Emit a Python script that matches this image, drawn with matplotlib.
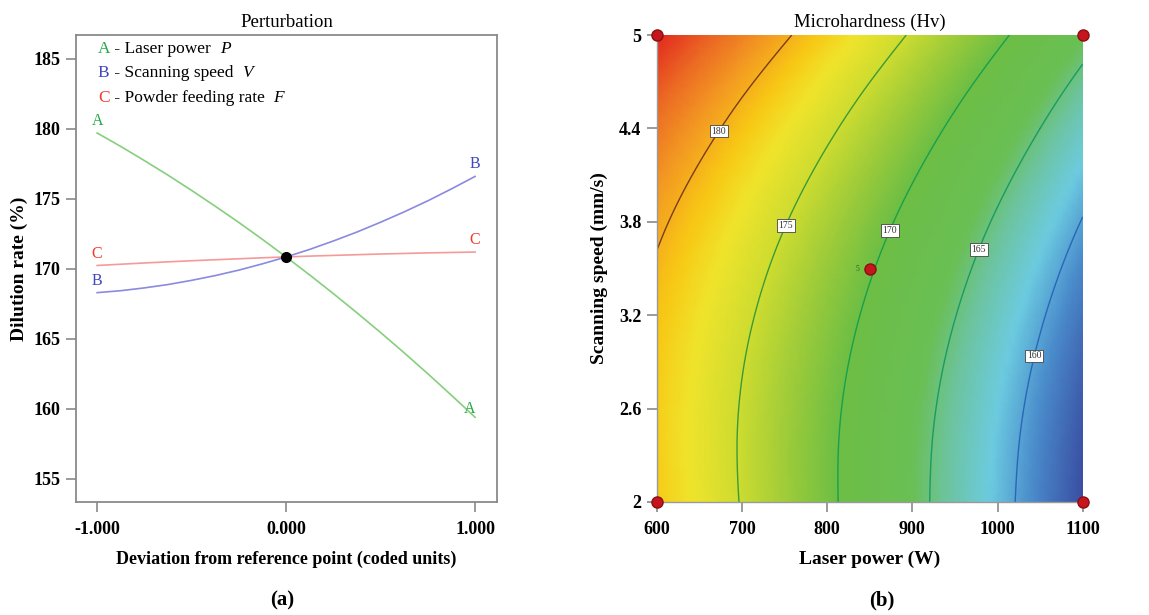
import numpy as np
import matplotlib
matplotlib.use("Agg")
import matplotlib.pyplot as plt
import matplotlib.tri as mtri
from matplotlib.colors import LinearSegmentedColormap

plt.rcParams['font.family'] = ['Liberation Serif', 'DejaVu Serif']

# ---------------- Panel (a) data: perturbation ----------------
pert_x = [-1.0, -0.875, -0.75, -0.625, -0.5, -0.375, -0.25, -0.125, 0.0,
          0.125, 0.25, 0.375, 0.5, 0.625, 0.75, 0.875, 1.0]
curve_A = [179.70, 178.74, 177.73, 176.69, 175.60, 174.47, 173.31, 172.10, 170.85,
           169.56, 168.23, 166.86, 165.45, 164.00, 162.51, 160.97, 159.40]
curve_B = [168.30, 168.44, 168.64, 168.88, 169.18, 169.52, 169.91, 170.36, 170.85,
           171.39, 171.99, 172.63, 173.33, 174.07, 174.86, 175.71, 176.60]
curve_C = [170.24, 170.33, 170.42, 170.50, 170.58, 170.65, 170.72, 170.79, 170.85,
           170.91, 170.96, 171.01, 171.06, 171.10, 171.14, 171.17, 171.20]
ref_point = (0.0, 170.85)
pert_xticks = [-1.0, 0.0, 1.0]
pert_xticklabels = ['-1.000', '0.000', '1.000']
pert_yticks = [155, 160, 165, 170, 175, 180, 185]
legend_letters = ['A', 'B', 'C']
legend_names = ['Laser power', 'Scanning speed', 'Powder feeding rate']
legend_syms = ['P', 'V', 'F']

# ---------------- Panel (b) data: microhardness contour ----------------
power = [600, 650, 700, 750, 800, 850, 900, 950, 1000, 1050, 1100]
speed = [2.0, 2.3, 2.6, 2.9, 3.2, 3.5, 3.8, 4.1, 4.4, 4.7, 5.0]
hv = [  # rows: speed, cols: power
    [178.82, 176.88, 174.86, 172.76, 170.58, 168.32, 165.98, 163.56, 161.06, 158.48, 155.82],
    [178.65, 176.75, 174.77, 172.71, 170.57, 168.35, 166.05, 163.67, 161.21, 158.67, 156.05],
    [178.65, 176.79, 174.85, 172.83, 170.73, 168.55, 166.29, 163.95, 161.53, 159.03, 156.45],
    [178.84, 177.02, 175.12, 173.14, 171.08, 168.94, 166.72, 164.42, 162.04, 159.58, 157.04],
    [179.21, 177.43, 175.57, 173.63, 171.61, 169.51, 167.33, 165.07, 162.73, 160.31, 157.81],
    [179.75, 178.01, 176.19, 174.29, 172.31, 170.25, 168.11, 165.89, 163.59, 161.21, 158.75],
    [180.47, 178.77, 176.99, 175.13, 173.19, 171.17, 169.07, 166.89, 164.63, 162.29, 159.87],
    [181.38, 179.72, 177.98, 176.16, 174.26, 172.28, 170.22, 168.08, 165.86, 163.56, 161.18],
    [182.46, 180.84, 179.14, 177.36, 175.50, 173.56, 171.54, 169.44, 167.26, 165.00, 162.66],
    [183.72, 182.14, 180.48, 178.74, 176.92, 175.02, 173.04, 170.98, 168.84, 166.62, 164.32],
    [185.16, 183.62, 182.00, 180.30, 178.52, 176.66, 174.72, 172.70, 170.60, 168.42, 166.16],
]
contour_levels = [160, 165, 170, 175, 180]
contour_colors = ['#2a66b8', '#1a9a66', '#18a04c', '#3c9a38', '#7a3c1a']
label_pos = [(1050, 2.93), (988, 3.60), (883, 3.72), (758, 3.76), (668, 4.40)]
design_P = [600, 600, 1100, 1100, 850]
design_V = [2.0, 5.0, 2.0, 5.0, 3.5]
power_ticks = [600, 700, 800, 900, 1000, 1100]
speed_ticks = [2, 2.6, 3.2, 3.8, 4.4, 5]
speed_ticklabels = ['2', '2.6', '3.2', '3.8', '4.4', '5']

fig = plt.figure(figsize=(11.49, 6.15), dpi=100)

# ---------------- Panel (a) ----------------
ax1 = fig.add_axes([76/1149, 113/615, 421/1149, 467/615])
ax1.plot(pert_x, curve_A, color='#86cf7c', lw=1.2)
ax1.plot(pert_x, curve_B, color='#8a8ae0', lw=1.2)
ax1.plot(pert_x, curve_C, color='#f59a9a', lw=1.2)
ax1.plot([ref_point[0]], [ref_point[1]], 'o', color='black', ms=7, zorder=5)
ax1.set_xlim(-1.112, 1.116)
ax1.set_ylim(153.35, 186.7)
ax1.set_xticks(pert_xticks)
ax1.set_xticklabels(pert_xticklabels)
ax1.set_yticks(pert_yticks)
for s in ax1.spines.values():
    s.set_color('#8a8a8a')
    s.set_linewidth(1.3)
ax1.tick_params(colors='#8a8a8a', length=7.5, width=1.2, labelcolor='black',
                labelsize=13)
ax1.tick_params(axis='x', pad=6)
for lab in ax1.get_xticklabels() + ax1.get_yticklabels():
    lab.set_fontweight('bold')
ax1.set_title('Perturbation', fontsize=13.5, pad=6)
ax1.set_xlabel('Deviation from reference point (coded units)', fontsize=13,
               fontweight='bold', labelpad=9)
ax1.set_ylabel('Dilution rate (%)', fontsize=14, fontweight='bold', labelpad=4)

letter_cols = ['#27a84a', '#4048c0', '#f03a2a']
fs_l = 11.5
ax1.text(pert_x[0], curve_A[0] + 0.3, 'A', color=letter_cols[0], fontsize=fs_l,
         ha='center', va='bottom')
ax1.text(0.97, curve_A[-1] + 0.05, 'A', color=letter_cols[0], fontsize=fs_l,
         ha='center', va='bottom')
ax1.text(pert_x[0], curve_B[0] + 0.25, 'B', color=letter_cols[1], fontsize=fs_l,
         ha='center', va='bottom')
ax1.text(pert_x[-1], curve_B[-1] + 0.3, 'B', color=letter_cols[1], fontsize=fs_l,
         ha='center', va='bottom')
ax1.text(pert_x[0], curve_C[0] + 0.25, 'C', color=letter_cols[2], fontsize=fs_l,
         ha='center', va='bottom')
ax1.text(pert_x[-1], curve_C[-1] + 0.3, 'C', color=letter_cols[2], fontsize=fs_l,
         ha='center', va='bottom')

# legend-like text block
ys = [0.969, 0.918, 0.866]
for L, name, sym, col, yy in zip(legend_letters, legend_names, legend_syms,
                                 letter_cols, ys):
    t1 = ax1.text(0.052, yy, L, color=col, fontsize=12.5, transform=ax1.transAxes,
                  va='center', ha='left')
    t2 = ax1.annotate(' - ' + name + '  ', xy=(1, 0.5), xycoords=t1,
                      va='center', ha='left', fontsize=12.5, color='black')
    ax1.annotate(sym, xy=(1, 0.5), xycoords=t2, va='center', ha='left',
                 fontsize=12.5, style='italic', color='black')

fig.text(282/1149, 1 - 600/615, '(a)', fontsize=15, fontweight='bold',
         ha='center', va='center')

# ---------------- Panel (b) ----------------
vmin, vmax = 155.8, 185.2
stops = [
    (155.8, '#3a4ea2'),
    (159.0, '#4a8ccc'),
    (161.5, '#6ccbe0'),
    (164.0, '#6cc4a0'),
    (166.0, '#6abf55'),
    (170.0, '#6cbe45'),
    (172.5, '#9ccb3a'),
    (175.0, '#cddc30'),
    (177.3, '#f0e42b'),
    (179.0, '#f8c815'),
    (181.0, '#f39a22'),
    (183.0, '#ec6a23'),
    (185.2, '#e2271f'),
]
cmap = LinearSegmentedColormap.from_list(
    'de', [((v - vmin) / (vmax - vmin), c) for v, c in stops])

ax2 = fig.add_axes([656.7/1149, 113/615, 426/1149, 467/615])
P, V = np.meshgrid(power, speed)
Z = np.array(hv)
# smooth display surface: library cubic refinement of the read grid
p_span = power[-1] - power[0]
v_span = speed[-1] - speed[0]
tri_s = mtri.Triangulation(P.ravel() / p_span, V.ravel() / v_span)
refiner = mtri.UniformTriRefiner(tri_s)
tri_r, z_r = refiner.refine_field(Z.ravel(), subdiv=3)
tri_plot = mtri.Triangulation(tri_r.x * p_span, tri_r.y * v_span, tri_r.triangles)
ax2.tripcolor(tri_plot, z_r, shading='gouraud', cmap=cmap, vmin=vmin, vmax=vmax)
cs = ax2.tricontour(tri_plot, z_r, levels=contour_levels, colors=contour_colors,
                    linewidths=1.0)
cl = ax2.clabel(cs, fmt='%d', fontsize=7, inline=False, manual=label_pos)
for t in cl:
    t.set_rotation(0)
    t.set_color('#333333')
    t.set_zorder(6)
    t.set_bbox(dict(boxstyle='square,pad=0.18', fc='white', ec='#444444', lw=0.6))
ax2.plot(design_P, design_V, 'o', color='#c4161c', mec='#8a0f12', ms=8,
         clip_on=False, zorder=10)
ax2.text(design_P[-1] - 12, design_V[-1], '5', fontsize=5.5, color='#1a6a2a',
         ha='right', va='center')
ax2.set_xlim(600, 1100)
ax2.set_ylim(2, 5)
ax2.set_xticks(power_ticks)
ax2.set_yticks(speed_ticks)
ax2.set_yticklabels(speed_ticklabels)
ax2.spines['top'].set_visible(False)
ax2.spines['right'].set_visible(False)
for s in ['left', 'bottom']:
    ax2.spines[s].set_color('#9a9a9a')
    ax2.spines[s].set_linewidth(1.0)
ax2.tick_params(colors='#8a8a8a', length=7.5, width=1.2, labelcolor='black',
                labelsize=13)
ax2.tick_params(axis='x', pad=6)
for lab in ax2.get_xticklabels() + ax2.get_yticklabels():
    lab.set_fontweight('bold')
ax2.set_title('Microhardness (Hv)', fontsize=13.5, pad=6)
ax2.set_xlabel('Laser power (W)', fontsize=14, fontweight='bold', labelpad=9)
ax2.set_ylabel('Scanning speed (mm/s)', fontsize=14, fontweight='bold',
               labelpad=8)

fig.text(882/1149, 1 - 600/615, '(b)', fontsize=15, fontweight='bold',
         ha='center', va='center')

fig.savefig('out.png', dpi=100)
